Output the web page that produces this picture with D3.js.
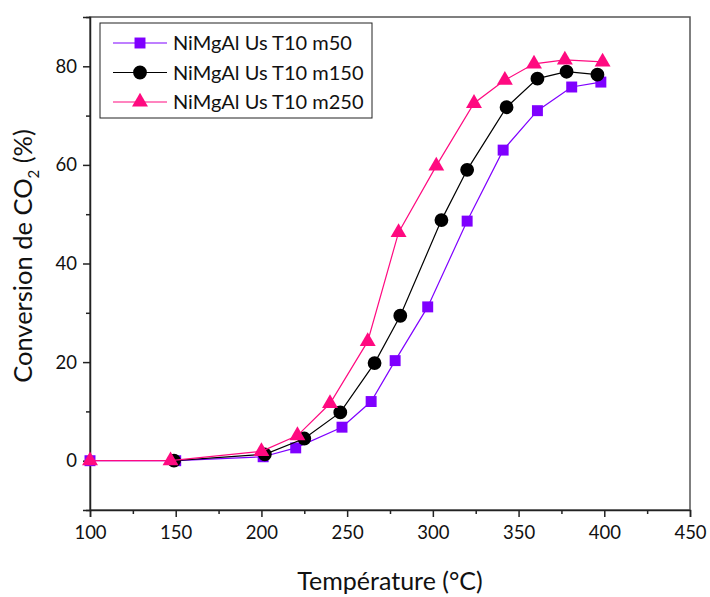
<!DOCTYPE html>
<html><head><meta charset="utf-8">
<script src="https://cdn.jsdelivr.net/npm/d3@7"></script>
<style>body{margin:0;background:#fff}svg{display:block}text{font-family:Lato,"Open Sans",sans-serif}</style>
</head><body><svg id="c" width="710" height="597"></svg>
<script>
const seriesNames = ["NiMgAl Us T10 m50", "NiMgAl Us T10 m150", "NiMgAl Us T10 m250"];
const m50T = [100, 150, 201, 220, 247, 264, 278, 297, 320, 341, 361, 381, 398];
const m50V = [0, 0, 0.8, 2.6, 6.8, 12, 20.3, 31.2, 48.6, 63, 71, 75.8, 76.8];
const m150T = [149, 202, 225, 246, 266, 281, 305, 320, 343, 361, 378, 396];
const m150V = [0, 1.3, 4.5, 9.8, 19.8, 29.4, 48.8, 59, 71.7, 77.5, 78.9, 78.3];
const m250T = [100, 147, 200, 221, 240, 262, 280, 302, 324, 342, 359, 377, 399];
const m250V = [0, 0, 1.9, 5.1, 11.6, 24.2, 46.3, 59.8, 72.5, 77.2, 80.5, 81.3, 80.9];
const xTicks = [100, 150, 200, 250, 300, 350, 400, 450];
const yTicks = [0, 20, 40, 60, 80];

const svg = d3.select("#c");
const L = 90, R = 690, T = 17, B = 510;
const x = d3.scaleLinear().domain([100, 450]).range([L, R]);
const y = d3.scaleLinear().domain([-10, 90]).range([B, T]);

svg.append("rect").attr("x", L).attr("y", T).attr("width", R - L).attr("height", B - T)
  .attr("fill", "none").attr("stroke", "#555").attr("stroke-width", 1.5);

const xMinor = d3.range(100, 451, 25).filter(v => v % 50 !== 0);
const yMinor = d3.range(-10, 91, 10).filter(v => v % 20 !== 0);

svg.append("g").attr("transform", `translate(0,${B})`)
  .call(d3.axisBottom(x).tickValues(xTicks).tickSize(7).tickPadding(9).tickFormat(d3.format("d")));
svg.append("g").attr("transform", `translate(0,${B})`)
  .call(d3.axisBottom(x).tickValues(xMinor).tickSize(4).tickFormat(""))
  .call(g => g.select(".domain").remove());
svg.append("g").attr("transform", `translate(${L},0)`)
  .call(d3.axisLeft(y).tickValues(yTicks).tickSize(7).tickPadding(6).tickFormat(d3.format("d")));
svg.append("g").attr("transform", `translate(${L},0)`)
  .call(d3.axisLeft(y).tickValues(yMinor).tickSize(4).tickFormat(""))
  .call(g => g.select(".domain").remove());
svg.selectAll(".tick text").attr("font-size", 18.5).attr("fill", "#111").style("font-family", "Lato, sans-serif");
svg.selectAll(".domain, .tick line").attr("stroke", "#222").attr("stroke-width", 1.5);

svg.append("text").attr("x", 390).attr("y", 590).attr("text-anchor", "middle")
  .attr("font-size", 25).attr("fill", "#111").text("Température (°C)");
const yt = svg.append("text").attr("transform", "translate(32,256) rotate(-90)")
  .attr("text-anchor", "middle").attr("font-size", 25.5).attr("fill", "#111");
yt.append("tspan").text("Conversion de CO");
yt.append("tspan").attr("font-size", 15).attr("dy", 7).text("2");
yt.append("tspan").attr("dy", -7).text(" (%)");

const series = [
  {name: seriesNames[0], t: m50T, v: m50V, color: "#7f00ff", shape: d3.symbolSquare, size: 120},
  {name: seriesNames[1], t: m150T, v: m150V, color: "#000000", shape: d3.symbolCircle, size: 150},
  {name: seriesNames[2], t: m250T, v: m250V, color: "#ff0a80", shape: d3.symbolTriangle, size: 110}
];
const line = d3.line().x(d => x(d[0])).y(d => y(d[1]));
series.forEach(s => {
  const pts = s.t.map((t, i) => [t, s.v[i]]);
  svg.append("path").datum(pts).attr("d", line).attr("fill", "none")
    .attr("stroke", s.color).attr("stroke-width", 1.2);
  svg.append("g").selectAll("path").data(pts).join("path")
    .attr("transform", d => `translate(${x(d[0])},${y(d[1])})`)
    .attr("d", d3.symbol().type(s.shape).size(s.size)).attr("fill", s.color);
});

const lg = svg.append("g");
lg.append("rect").attr("x", 100).attr("y", 23).attr("width", 272).attr("height", 95)
  .attr("fill", "#fff").attr("stroke", "#222").attr("stroke-width", 1);
series.forEach((s, i) => {
  const cy = 43 + i * 29.5;
  lg.append("line").attr("x1", 113).attr("x2", 167).attr("y1", cy).attr("y2", cy)
    .attr("stroke", s.color).attr("stroke-width", 1.2);
  lg.append("path").attr("transform", `translate(140,${cy})`)
    .attr("d", d3.symbol().type(s.shape).size(s.size)).attr("fill", s.color);
  lg.append("text").attr("x", 173).attr("y", cy + 7).attr("font-size", 20).attr("fill", "#111").text(s.name);
});
</script></body></html>
